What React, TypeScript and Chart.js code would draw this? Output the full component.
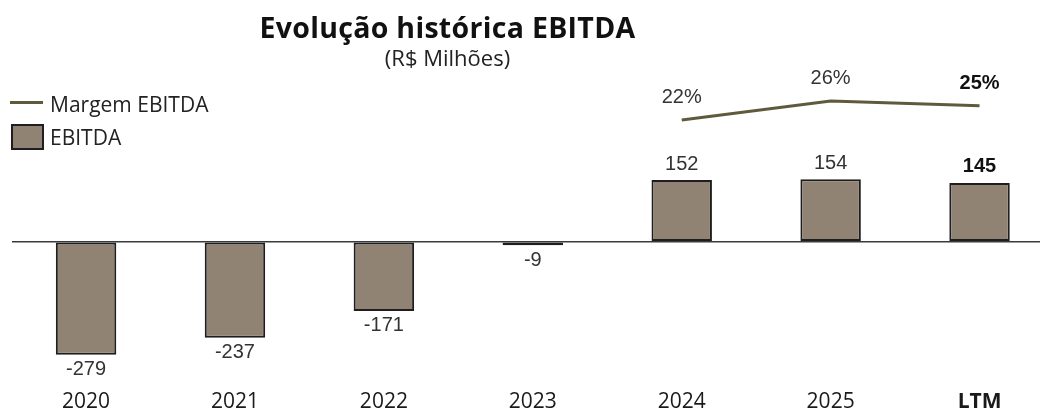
import React, { useEffect, useRef } from "react";
import { Chart, registerables } from "chart.js";

Chart.register(...registerables);

const categories: string[] = ["2020", "2021", "2022", "2023", "2024", "2025", "LTM"];
const ebitda: number[] = [-279, -237, -171, -9, 152, 154, 145];
const margem: (number | null)[] = [null, null, null, null, 22, 26, 25];

const titleText = "Evolução histórica EBITDA";
const subtitleText = "(R$ Milhões)";
const legendLine = "Margem EBITDA";
const legendBar = "EBITDA";

const BAR_FILL = "#908373";
const BAR_BORDER = "#1e1e1e";
const LINE_COLOR = "#5f5a3c";
const TEXT_FONT = '"Open Sans", "Noto Sans", sans-serif';
const LABEL_FONT = '"Liberation Sans", Arial, sans-serif';

const valueLabels = {
  id: "valueLabels",
  afterDatasetsDraw(chart: any) {
    const ctx = chart.ctx;
    const last = categories.length - 1;
    ctx.save();
    ctx.textAlign = "center";
    ctx.textBaseline = "middle";
    const barMeta = chart.getDatasetMeta(0);
    barMeta.data.forEach((el: any, i: number) => {
      const v = ebitda[i];
      const bold = i === last;
      ctx.font = `${bold ? "bold " : ""}20px ${LABEL_FONT}`;
      ctx.fillStyle = bold ? "#111" : "#333";
      const p = el.getProps(["x", "y"], true);
      ctx.fillText(String(v), p.x, v >= 0 ? p.y - 16 : p.y + 15);
    });
    const lineMeta = chart.getDatasetMeta(1);
    lineMeta.data.forEach((el: any, i: number) => {
      const v = margem[i];
      if (v == null) return;
      const bold = i === last;
      ctx.font = `${bold ? "bold " : ""}20px ${LABEL_FONT}`;
      ctx.fillStyle = bold ? "#111" : "#333";
      const p = el.getProps(["x", "y"], true);
      ctx.fillText(`${v}%`, p.x, p.y - 22);
    });
    ctx.restore();
  },
};

export default function App() {
  const ref = useRef<HTMLCanvasElement | null>(null);

  useEffect(() => {
    if (!ref.current) return;
    const chart = new Chart(ref.current, {
      type: "bar",
      data: {
        labels: categories,
        datasets: [
          {
            type: "bar",
            label: legendBar,
            data: ebitda,
            backgroundColor: BAR_FILL,
            borderColor: BAR_BORDER,
            borderWidth: 2,
            borderSkipped: false,
            barPercentage: 0.406,
            categoryPercentage: 1,
            yAxisID: "y",
            order: 2,
          },
          {
            type: "line",
            label: legendLine,
            data: margem as any,
            borderColor: LINE_COLOR,
            borderWidth: 3,
            pointRadius: 0,
            tension: 0,
            yAxisID: "y1",
            order: 1,
          },
        ],
      },
      options: {
        responsive: false,
        maintainAspectRatio: false,
        animation: false,
        devicePixelRatio: 1,
        layout: { padding: { left: 11.6, top: 79.7, right: 0, bottom: 0 } },
        plugins: {
          legend: { display: false },
          title: { display: false },
          tooltip: { enabled: false },
        },
        scales: {
          x: {
            grid: { display: false, drawTicks: false },
            border: { display: false },
            ticks: {
              padding: 6,
              color: "#1a1a1a",
              font: (c: any) => ({
                family: TEXT_FONT,
                size: 21,
                weight: c.index === categories.length - 1 ? "bold" : "normal",
              }),
            },
            afterFit: (s: any) => {
              s.height = 28.6;
            },
          },
          y: {
            min: -350,
            max: 400,
            position: "left",
            ticks: { display: false, stepSize: 50 },
            grid: {
              drawTicks: false,
              lineWidth: 1.5,
              color: (c: any) => (c.tick && c.tick.value === 0 ? "#3a3a3a" : "rgba(0,0,0,0)"),
            },
            border: { display: false },
            afterFit: (s: any) => {
              s.width = 0;
            },
          },
          y1: {
            display: false,
            min: -33.46,
            max: 30.48,
          },
        },
      },
      plugins: [valueLabels],
    });
    return () => chart.destroy();
  }, []);

  return (
    <div
      style={{
        position: "fixed",
        left: 0,
        top: 0,
        width: 1040,
        height: 412,
        overflow: "hidden",
        background: "#fff",
      }}
    >
      <div style={{ position: "absolute", left: 0, top: 0, width: 1054, height: 412 }}>
        <canvas ref={ref} width={1054} height={412} style={{ display: "block" }} />
      </div>
      <div
        style={{
          position: "absolute",
          left: 0,
          width: 895,
          top: 11,
          textAlign: "center",
          fontFamily: TEXT_FONT,
          fontWeight: 700,
          fontSize: 28.5,
          lineHeight: "32px",
          letterSpacing: "0.3px",
          color: "#111",
          whiteSpace: "nowrap",
        }}
      >
        {titleText}
      </div>
      <div
        style={{
          position: "absolute",
          left: 0,
          width: 895,
          top: 44,
          textAlign: "center",
          fontFamily: TEXT_FONT,
          fontSize: 22,
          lineHeight: "26px",
          color: "#222",
          whiteSpace: "nowrap",
        }}
      >
        {subtitleText}
      </div>
      <div
        style={{
          position: "absolute",
          left: 10,
          top: 101,
          width: 33,
          height: 3,
          background: LINE_COLOR,
        }}
      />
      <div
        style={{
          position: "absolute",
          left: 50,
          top: 91,
          fontFamily: TEXT_FONT,
          fontSize: 21,
          lineHeight: "26px",
          color: "#222",
          whiteSpace: "nowrap",
        }}
      >
        {legendLine}
      </div>
      <div
        style={{
          position: "absolute",
          left: 11,
          top: 124,
          width: 33,
          height: 26,
          boxSizing: "border-box",
          border: `2.5px solid ${BAR_BORDER}`,
          background: BAR_FILL,
        }}
      />
      <div
        style={{
          position: "absolute",
          left: 50,
          top: 124,
          fontFamily: TEXT_FONT,
          fontSize: 21,
          lineHeight: "26px",
          color: "#222",
          whiteSpace: "nowrap",
        }}
      >
        {legendBar}
      </div>
    </div>
  );
}
